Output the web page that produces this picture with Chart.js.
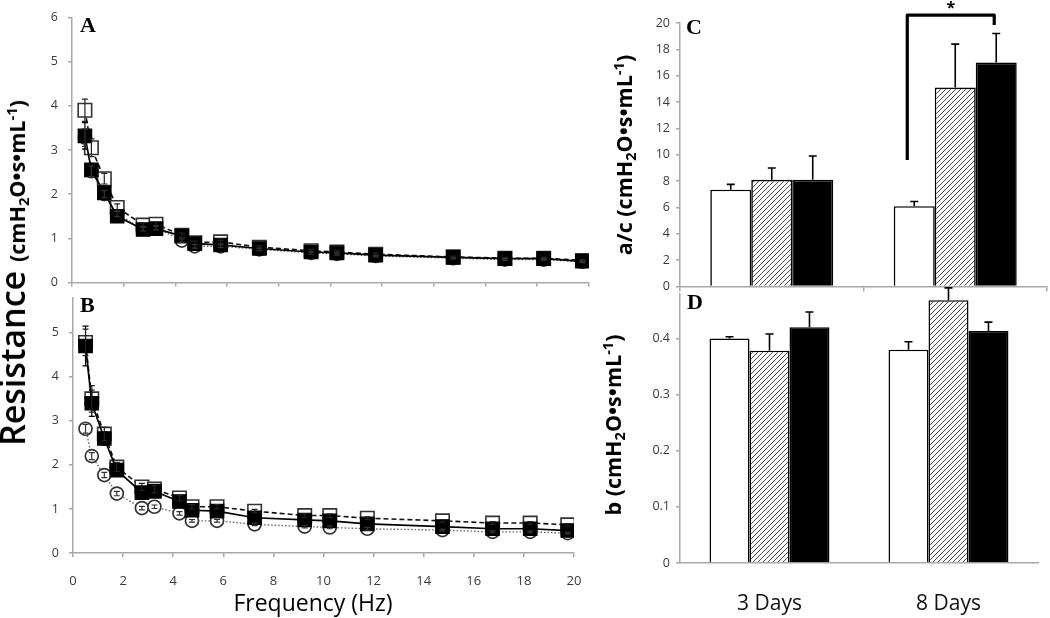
<!DOCTYPE html>
<html><head><meta charset="utf-8">
<script src="https://cdn.jsdelivr.net/npm/chart.js@4/dist/chart.umd.min.js"></script>
<style>
body{margin:0;background:#fff;}
#wrap{position:relative;width:1050px;height:618px;overflow:hidden;font-family:'Open Sans',sans-serif;background:#fff;}
canvas{position:absolute;}
.t{position:absolute;white-space:nowrap;color:#000;line-height:1;}
.rot{transform:translate(-50%,-50%) rotate(-90deg);}
.ctr{transform:translate(-50%,-50%);}
.pl{font-family:'Liberation Serif','Times New Roman',serif;font-weight:bold;font-size:22px;}
sub,sup{font-size:0.68em;line-height:0;}
sub{vertical-align:-0.25em;}
sup{vertical-align:0.55em;}
</style></head><body>
<div id="wrap">
<canvas id="cA" width="600" height="300" style="left:0;top:0"></canvas>
<canvas id="cB" width="600" height="338" style="left:0;top:280px"></canvas>
<canvas id="cC" width="450" height="300" style="left:600px;top:0"></canvas>
<canvas id="cD" width="450" height="338" style="left:600px;top:280px"></canvas>

<div class="t rot" style="left:12px;top:273px;font-size:34px;font-weight:600;">Resistance <span style="font-size:21.5px;font-weight:700;">(cmH<sub>2</sub>O•s•mL<sup>-1</sup>)</span></div>
<div class="t rot" style="left:624px;top:155px;font-size:21.5px;font-weight:700;">a/c (cmH<sub>2</sub>O•s•mL<sup>-1</sup>)</div>
<div class="t rot" style="left:613px;top:425px;font-size:21.5px;font-weight:700;">b (cmH<sub>2</sub>O•s•mL<sup>-1</sup>)</div>
<div class="t ctr" style="left:313px;top:602px;font-size:23px;">Frequency (Hz)</div>

<div class="t pl" style="left:80px;top:14px;">A</div>
<div class="t pl" style="left:80px;top:294px;">B</div>
<div class="t pl" style="left:686px;top:16px;">C</div>
<div class="t pl" style="left:687px;top:291px;">D</div>
</div>
<script>
// ---------- data ----------
const freqs = [0.5,0.75,1.25,1.75,2.75,3.25,4.25,4.75,5.75,7.25,9.25,10.25,11.75,14.75,16.75,18.25,19.75];

const aFilled    = [3.32,2.55,2.03,1.50,1.20,1.22,1.05,0.88,0.85,0.77,0.69,0.67,0.62,0.57,0.54,0.54,0.48];
const aFilledErr = [0.30,0.15,0.10,0.07,0.05,0.05,0.05,0.04,0.04,0.03,0.03,0.03,0.03,0.02,0.02,0.02,0.02];
const aOpen      = [3.90,3.05,2.35,1.70,1.30,1.32,1.07,0.90,0.92,0.80,0.72,0.69,0.64,0.58,0.55,0.55,0.50];
const aOpenErr   = [0.25,0.20,0.12,0.08,0.05,0.05,0.05,0.04,0.04,0.03,0.03,0.03,0.03,0.02,0.02,0.02,0.02];
const aCirc      = [3.28,2.52,2.00,1.55,1.22,1.24,0.95,0.82,0.82,0.75,0.67,0.65,0.60,0.55,0.52,0.52,0.47];
const aCircErr   = [0.20,0.12,0.08,0.06,0.05,0.05,0.04,0.04,0.03,0.03,0.03,0.03,0.02,0.02,0.02,0.02,0.02];

const bFilled    = [4.70,3.40,2.60,1.88,1.37,1.40,1.17,0.97,0.95,0.80,0.75,0.73,0.66,0.60,0.55,0.55,0.51];
const bFilledErr = [0.45,0.30,0.15,0.10,0.08,0.08,0.06,0.05,0.05,0.04,0.04,0.04,0.03,0.03,0.03,0.03,0.03];
const bOpen      = [4.78,3.50,2.70,1.95,1.50,1.45,1.25,1.05,1.05,0.95,0.85,0.85,0.79,0.73,0.68,0.68,0.64];
const bOpenErr   = [0.30,0.30,0.15,0.10,0.08,0.08,0.06,0.05,0.05,0.04,0.04,0.04,0.03,0.03,0.03,0.03,0.03];
const bCirc      = [2.82,2.20,1.77,1.35,1.02,1.05,0.90,0.73,0.73,0.65,0.60,0.58,0.55,0.52,0.48,0.48,0.45];
const bCircErr   = [0.10,0.08,0.06,0.05,0.04,0.04,0.04,0.03,0.03,0.03,0.03,0.03,0.03,0.02,0.02,0.02,0.02];

const categories = ['3 Days','8 Days'];
const cWhite = [7.35, 6.1];  const cWhiteErr = [0.4, 0.35];
const cHatch = [8.1, 15.1];  const cHatchErr = [0.9, 3.3];
const cBlack = [8.1, 17.0];  const cBlackErr = [1.8, 2.2];
const dWhite = [0.400, 0.380]; const dWhiteErr = [0.003, 0.014];
const dHatch = [0.378, 0.468]; const dHatchErr = [0.030, 0.022];
const dBlack = [0.420, 0.413]; const dBlackErr = [0.027, 0.016];
const sigBracket = {left: 9.6, top: 20.6, right: 19.85};

const resTicks = [0,1,2,3,4,5,6];
const resTicksB = [0,1,2,3,4,5];
const freqTicks = [0,2,4,6,8,10,12,14,16,18,20];
const cTicks = [0,2,4,6,8,10,12,14,16,18,20];
const dTicks = [0,0.1,0.2,0.3,0.4];

// ---------- styles ----------
Chart.defaults.font.family = "'Open Sans', sans-serif";
Chart.defaults.animation = false;
Chart.defaults.events = [];
Chart.defaults.plugins.legend.display = false;
Chart.defaults.plugins.tooltip.enabled = false;
const AXIS = '#a8a8a8', TICKC = '#3a3a3a';

function yAxis(min, max, arr, width, pad, fmt){
  return {type:'linear', min, max,
    afterBuildTicks: s => { s.ticks = arr.map(v => ({value:v})); },
    afterFit: s => { s.width = width; },
    border:{color:AXIS, width:1.5},
    grid:{drawOnChartArea:false, color:AXIS, tickLength:4, lineWidth:1.5},
    ticks:{color:TICKC, font:{size:12.5}, padding:pad, callback: fmt || (v => String(v))}};
}
function xLin(arr, height, show, pad){
  return {type:'linear', min:0, max:20,
    afterBuildTicks: s => { s.ticks = arr.map(v => ({value:v})); },
    afterFit: s => { s.height = height; },
    border:{color:AXIS, width:1.5},
    grid:{drawOnChartArea:false, color:AXIS, tickLength:4, lineWidth:1.5},
    ticks:{display:show, color:TICKC, font:{size:13}, padding:pad, maxRotation:0, autoSkip:false}};
}
const stFilled = {borderColor:'#000', borderWidth:1.7, pointStyle:'rect', pointRadius:9.5, pointBackgroundColor:'#000', pointBorderColor:'#000', pointBorderWidth:1.2, errColor:'#000', order:0};
const stOpen   = {borderColor:'#111', borderWidth:1.6, borderDash:[5,3], pointStyle:'rect', pointRadius:9.5, pointBackgroundColor:'#fff', pointBorderColor:'#333', pointBorderWidth:1.6, errColor:'#222', order:1};
const stCirc   = {borderColor:'#666', borderWidth:1.4, borderDash:[1.5,2], pointStyle:'circle', pointRadius:6.5, pointBackgroundColor:'#fff', pointBorderColor:'#333', pointBorderWidth:1.7, errColor:'#333', order:2};

function lineDs(ys, errs, st){
  return Object.assign({data: freqs.map((x,i) => ({x, y: ys[i]})), err: errs, tension:0, fill:false}, st);
}
const lineErr = {id:'lineErr', afterDatasetsDraw(chart){
  const ctx = chart.ctx, ys = chart.scales.y;
  chart.data.datasets.forEach((d,i) => {
    const meta = chart.getDatasetMeta(i);
    ctx.save(); ctx.strokeStyle = d.errColor; ctx.lineWidth = 1.2;
    meta.data.forEach((pt,j) => {
      const v = d.data[j].y, e = d.err[j];
      const y1 = ys.getPixelForValue(v+e), y2 = ys.getPixelForValue(v-e);
      ctx.beginPath();
      ctx.moveTo(pt.x, y1); ctx.lineTo(pt.x, y2);
      ctx.moveTo(pt.x-3, y1); ctx.lineTo(pt.x+3, y1);
      ctx.moveTo(pt.x-3, y2); ctx.lineTo(pt.x+3, y2);
      ctx.stroke();
    });
    ctx.restore();
  });
}};

new Chart(document.getElementById('cA'), {type:'line',
  data:{datasets:[lineDs(aFilled,aFilledErr,stFilled), lineDs(aOpen,aOpenErr,stOpen), lineDs(aCirc,aCircErr,stCirc)]},
  options:{responsive:false, layout:{padding:{top:14, right:8, left:0, bottom:0}},
    scales:{x:xLin(freqTicks, 11, false, 0), y:yAxis(0, 6, resTicks, 72, 10)}},
  plugins:[lineErr]});

new Chart(document.getElementById('cB'), {type:'line',
  data:{datasets:[lineDs(bFilled,bFilledErr,stFilled), lineDs(bOpen,bOpenErr,stOpen), lineDs(bCirc,bCircErr,stCirc)]},
  options:{responsive:false, layout:{padding:{top:10, right:26, left:0, bottom:0}},
    scales:{x:xLin(freqTicks, 65, true, 16), y:yAxis(0, 5.8, resTicksB, 73, 10)}},
  plugins:[lineErr]});

// ---------- bars ----------
function hatch(){
  const c = document.createElement('canvas'); c.width = c.height = 5;
  const x = c.getContext('2d');
  x.fillStyle = '#fff'; x.fillRect(0,0,5,5);
  x.strokeStyle = '#4a4a4a'; x.lineWidth = 1;
  x.beginPath(); x.moveTo(0,5); x.lineTo(5,0); x.moveTo(-1,1); x.lineTo(1,-1); x.moveTo(4,6); x.lineTo(6,4); x.stroke();
  return x.createPattern(c,'repeat');
}
const HATCH = hatch();
function barDs(data, err, bg){
  return {data, err, backgroundColor:bg, borderColor:'#000', borderWidth:1.6, categoryPercentage:0.67, barPercentage:1.0};
}
const barErr = {id:'barErr', afterDatasetsDraw(chart){
  const ctx = chart.ctx, ys = chart.scales.y;
  chart.data.datasets.forEach((d,i) => {
    chart.getDatasetMeta(i).data.forEach((bar,j) => {
      const top = ys.getPixelForValue(d.data[j] + d.err[j]);
      ctx.save(); ctx.strokeStyle = '#000'; ctx.lineWidth = 1.6;
      ctx.beginPath(); ctx.moveTo(bar.x, bar.y); ctx.lineTo(bar.x, top);
      ctx.moveTo(bar.x-4, top); ctx.lineTo(bar.x+4, top); ctx.stroke(); ctx.restore();
    });
  });
}};
const bracket = {id:'bracket', afterDraw(chart){
  const ctx = chart.ctx, ys = chart.scales.y;
  const w = chart.getDatasetMeta(0).data[1], b = chart.getDatasetMeta(2).data[1];
  const xl = w.x - 7, xr = b.x - 2;
  const yt = ys.getPixelForValue(sigBracket.top), yl = ys.getPixelForValue(sigBracket.left), yr = ys.getPixelForValue(sigBracket.right);
  ctx.save(); ctx.strokeStyle = '#000'; ctx.lineWidth = 3.2; ctx.lineJoin = 'round';
  ctx.beginPath(); ctx.moveTo(xl, yl); ctx.lineTo(xl, yt); ctx.lineTo(xr, yt); ctx.lineTo(xr, yr); ctx.stroke();
  ctx.fillStyle = '#000'; ctx.font = "bold 16px 'Open Sans'"; ctx.textAlign = 'center'; ctx.textBaseline = 'middle';
  ctx.fillText('*', (xl+xr)/2, yt - 7);
  ctx.restore();
}};

new Chart(document.getElementById('cC'), {type:'bar',
  data:{labels:categories, datasets:[barDs(cWhite,cWhiteErr,'#fff'), barDs(cHatch,cHatchErr,HATCH), barDs(cBlack,cBlackErr,'#000')]},
  options:{responsive:false, layout:{padding:{top:23, right:3, left:0, bottom:0}},
    scales:{
      x:{type:'category', offset:true, afterFit: s => { s.height = 8; }, border:{color:AXIS, width:1.5},
         grid:{offset:true, drawOnChartArea:false, color:AXIS, tickLength:5, lineWidth:1.5}, ticks:{display:false}},
      y:yAxis(0, 20, cTicks, 80, 6)}},
  plugins:[barErr, bracket]});

new Chart(document.getElementById('cD'), {type:'bar',
  data:{labels:categories, datasets:[barDs(dWhite,dWhiteErr,'#fff'), barDs(dHatch,dHatchErr,HATCH), barDs(dBlack,dBlackErr,'#000')]},
  options:{responsive:false, layout:{padding:{top:10, right:12, left:0, bottom:0}},
    scales:{
      x:{type:'category', offset:true, afterFit: s => { s.height = 55; }, border:{color:AXIS, width:1.5},
         grid:{display:false, drawTicks:false}, ticks:{color:'#111', font:{size:21}, padding:28}},
      y:yAxis(0, 0.48, dTicks, 80, 6, v => v === 0 ? '0' : v.toFixed(1))}},
  plugins:[barErr]});
</script>
</body></html>
